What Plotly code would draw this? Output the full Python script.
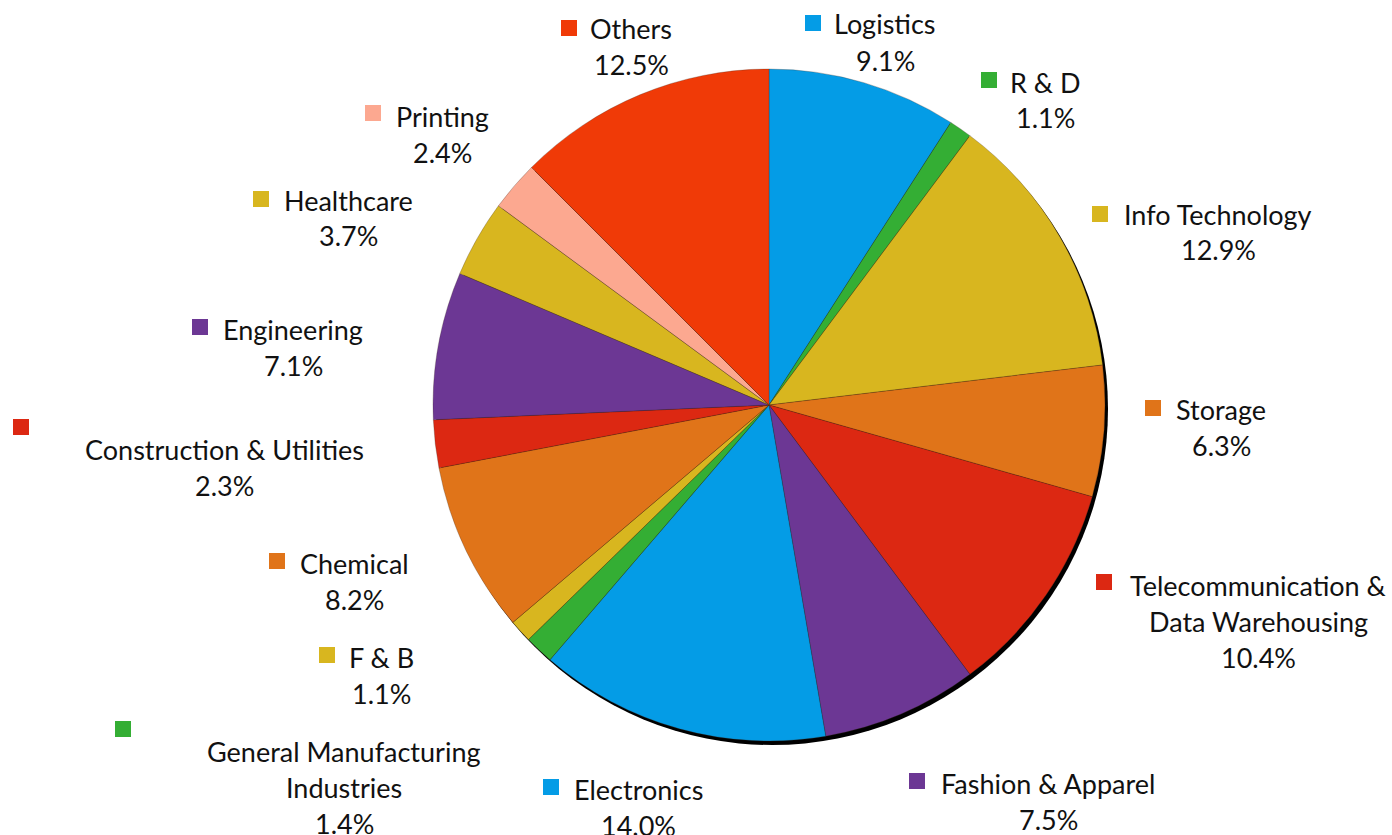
import plotly.graph_objects as go

# Sector shares (%), listed clockwise from 12 o'clock
sectors = [
    "Logistics", "R & D", "Info Technology", "Storage",
    "Telecommunication &\nData Warehousing", "Fashion & Apparel", "Electronics",
    "General Manufacturing\nIndustries", "F & B", "Chemical",
    "Construction & Utilities", "Engineering", "Healthcare", "Printing", "Others",
]
shares = [9.1, 1.1, 12.9, 6.3, 10.4, 7.5, 14.0, 1.4, 1.1, 8.2, 2.3, 7.1, 3.7, 2.4, 12.5]

colors = [
    "#049CE6", "#34AE34", "#D8B61F", "#E07419", "#DC2812", "#6C3794", "#049CE6",
    "#34AE34", "#D8B61F", "#E07419", "#DC2812", "#6C3794", "#D8B61F", "#FCA890", "#F03A07",
]

W, H = 1392, 835
CX, CY, R = 769, 405, 336


def px(x):
    return x / W


def py(y):
    return 1 - y / H


# label placement: (text centre x, first line y, key square centre x, key square centre y)
label_pos = [
    (885, 24, 813, 23),
    (1045, 82, 989, 80),
    (1218, 214, 1100, 214),
    (1221, 409, 1153, 408),
    (1258, 585, 1104, 582),
    (1048, 783, 917, 781),
    (638, 789, 551, 787),
    (344, 751, 123, 729),
    (381, 657, 327, 655),
    (354, 563, 277, 561),
    (224, 449, 21, 427),
    (293, 329, 200, 327),
    (349, 200, 261, 199),
    (442, 116, 373, 113),
    (631, 28, 569, 28),
]
LINE = 36
KEY = 16
FONT = "Lato, 'Open Sans', sans-serif"

fig = go.Figure()

# drop shadow behind the pie
fig.add_trace(go.Pie(
    values=[1], labels=["shadow"], sort=False,
    marker=dict(colors=["#000000"], line=dict(width=0)),
    textinfo="none", hoverinfo="skip", showlegend=False,
    domain=dict(x=[px(CX - R + 3), px(CX + R + 3)], y=[py(CY + R + 4), py(CY - R + 4)]),
))

fig.add_trace(go.Pie(
    labels=[s.replace("\n", " ") for s in sectors], values=shares,
    sort=False, direction="clockwise", rotation=0,
    marker=dict(colors=colors, line=dict(color="rgba(60,40,30,0.45)", width=0.6)),
    textinfo="none", showlegend=False,
    domain=dict(x=[px(CX - R), px(CX + R)], y=[py(CY + R), py(CY - R)]),
))

annotations = []
shapes = []
for name, val, col, (tx, ty, kx, ky) in zip(sectors, shares, colors, label_pos):
    lines = name.split("\n") + [f"{val:.1f}%"]
    for i, line in enumerate(lines):
        annotations.append(dict(
            x=px(tx), y=py(ty + i * LINE), xref="paper", yref="paper",
            text=line, showarrow=False, xanchor="center", yanchor="middle",
            font=dict(family=FONT, size=27, color="#111111"),
        ))
    shapes.append(dict(
        type="rect", xref="paper", yref="paper",
        x0=px(kx - KEY / 2), x1=px(kx + KEY / 2),
        y0=py(ky + KEY / 2), y1=py(ky - KEY / 2),
        fillcolor=col, line=dict(width=0),
    ))

fig.update_layout(
    width=W, height=H,
    margin=dict(l=0, r=0, t=0, b=0),
    paper_bgcolor="white", plot_bgcolor="white",
    annotations=annotations, shapes=shapes,
)

fig.write_html("out.html")
